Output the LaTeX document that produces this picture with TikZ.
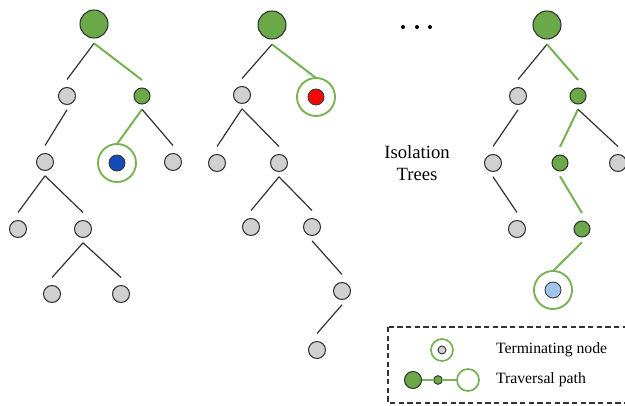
\documentclass[tikz,border=0pt]{standalone}
\usepackage{fontspec}
\setmainfont{Liberation Serif}
\begin{document}
\begin{tikzpicture}[x=0.75pt,y=-0.75pt,
  every node/.style={inner sep=0pt, outer sep=0pt},
  gry/.style={circle, fill=lgray, draw=dgray, line width=0.8pt, minimum size=12.75pt},
  grn/.style={circle, fill=tgreen, draw=dgray, line width=0.8pt, minimum size=12pt},
  rootn/.style={circle, fill=tgreen, draw=dgray, line width=0.8pt, minimum size=21pt},
  ringn/.style={circle, draw=rgreen, line width=1.4pt, minimum size=28.5pt},
  dotn/.style={circle, draw=dgray, line width=0.6pt, minimum size=12pt},
  edge/.style={draw=dgray, line width=0.9pt},
  gedge/.style={draw=rgreen, line width=1.5pt},
  lbl/.style={font=\fontsize{11.8}{14}\selectfont, anchor=west}
]
\definecolor{lgray}{RGB}{208,208,208}
\definecolor{dgray}{RGB}{50,50,50}
\definecolor{tgreen}{RGB}{106,168,72}
\definecolor{rgreen}{RGB}{118,178,82}
\definecolor{dblue}{RGB}{20,75,185}
\definecolor{lblue}{RGB}{160,195,235}
\definecolor{tred}{RGB}{240,10,10}
\useasboundingbox (0,0) rectangle (625,406);
\clip (0,0) rectangle (625,406);
\newcommand{\ed}[2]{\draw[edge] ([yshift=-4pt]#1.south) -- ([yshift=6pt]#2.north);}
\newcommand{\ged}[2]{\draw[gedge] ([yshift=-4pt]#1.south) -- ([yshift=6pt]#2.north);}
\newcommand{\gre}[2]{\draw[gedge] ([yshift=-4pt]#1.south) -- (#2.north);}
% Tree 1
\node[rootn] (a0) at (94,24) {};
\node[gry] (a1) at (67,96) {};
\node[grn] (a2) at (142,96) {};
\node[gry] (a3) at (45,162) {};
\node[ringn] (a4r) at (117,163) {};
\node[dotn, fill=dblue] (a4) at (117,163) {};
\node[gry] (a5) at (173,162) {};
\node[gry] (a6) at (18,229) {};
\node[gry] (a7) at (83,229) {};
\node[gry] (a8) at (52,294) {};
\node[gry] (a9) at (121,294) {};
\ed{a0}{a1}
\ged{a0}{a2}
\ed{a1}{a3}
\gre{a2}{a4r}
\ed{a2}{a5}
\ed{a3}{a6}
\ed{a3}{a7}
\ed{a7}{a8}
\ed{a7}{a9}
% Tree 2
\node[rootn] (b0) at (272,25) {};
\node[gry] (b1) at (242,95) {};
\node[ringn] (b2r) at (316,97) {};
\node[dotn, fill=tred] (b2) at (316,97) {};
\node[gry] (b3) at (217,163) {};
\node[gry] (b4) at (279,163) {};
\node[gry] (b5) at (251,227) {};
\node[gry] (b6) at (312,227) {};
\node[gry] (b7) at (342,291) {};
\node[gry] (b8) at (317,350) {};
\ed{b0}{b1}
\gre{b0}{b2r}
\ed{b1}{b3}
\ed{b1}{b4}
\ed{b4}{b5}
\ed{b4}{b6}
\ed{b6}{b7}
\ed{b7}{b8}
% dots
\node[circle, fill=black, minimum size=3pt] (d1) at (403,27) {};
\node[circle, fill=black, minimum size=3pt] (d2) at (417,27) {};
\node[circle, fill=black, minimum size=3pt] (d3) at (430,27) {};
% label
\node[align=center, font=\fontsize{14}{16.5}\selectfont] (it) at (417,163) {Isolation\\Trees};
% Tree 3
\node[rootn] (c0) at (547,25) {};
\node[gry] (c1) at (518,96) {};
\node[grn] (c2) at (578,96) {};
\node[gry] (c3) at (493,163) {};
\node[grn] (c4) at (560,163) {};
\node[gry] (c5) at (618,163) {};
\node[gry] (c6) at (517,229) {};
\node[grn] (c7) at (582,229) {};
\node[ringn] (c8r) at (553,290) {};
\node[dotn, fill=lblue] (c8) at (553,290) {};
\ed{c0}{c1}
\ged{c0}{c2}
\ed{c1}{c3}
\ged{c2}{c4}
\ed{c2}{c5}
\ed{c3}{c6}
\ged{c4}{c7}
\gre{c7}{c8r}
% legend
\draw[draw=dgray, line width=0.8pt, dash pattern=on 4pt off 2.5pt] (388,327) rectangle (640,403);
\node[circle, draw=rgreen, line width=1.3pt, minimum size=16.5pt] (lr) at (442,350) {};
\node[circle, fill=lgray, draw=dgray, line width=0.7pt, minimum size=6pt] (li) at (442,350) {};
\node[lbl] (lt1) at (496,350) {Terminating node};
\node[circle, fill=tgreen, draw=dgray, line width=0.8pt, minimum size=12.75pt] (p1) at (413,380) {};
\node[circle, fill=tgreen, draw=dgray, line width=0.7pt, minimum size=6.5pt] (p2) at (438,380) {};
\node[circle, draw=rgreen, line width=1.3pt, minimum size=16.5pt] (p3) at (468,380) {};
\draw[gedge, line width=1.2pt] (p1) -- (p2);
\draw[gedge, line width=1.2pt] (p2) -- (p3);
\node[lbl] (lt2) at (496,380) {Traversal path};
\end{tikzpicture}
\end{document}
